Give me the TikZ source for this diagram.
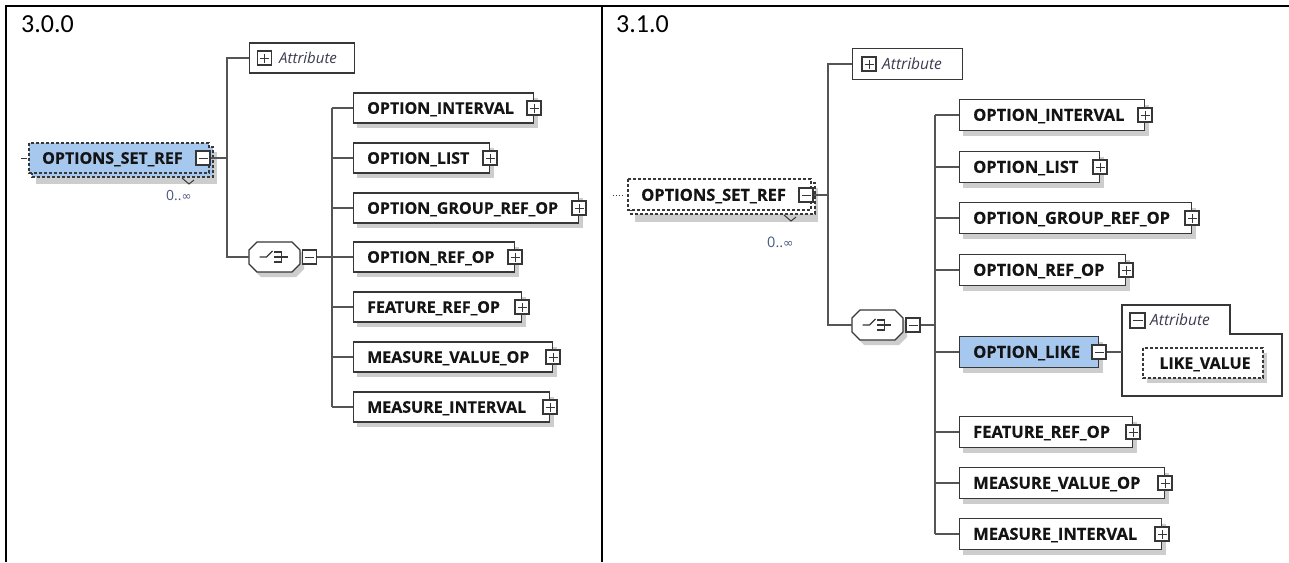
\documentclass[tikz,border=0pt]{standalone}
\usepackage{fontspec}
\setmainfont{Open Sans}
\newfontfamily\calib{Carlito}
\newfontfamily\djv{DejaVu Sans}
\usetikzlibrary{calc}
\definecolor{bluefill}{RGB}{166,200,238}
\definecolor{linec}{RGB}{85,85,85}
\definecolor{boxc}{RGB}{55,55,55}
\definecolor{shadowc}{RGB}{205,205,205}
\definecolor{multc}{RGB}{70,90,125}
\definecolor{attrc}{RGB}{60,60,80}
\tikzset{
 conn/.style={draw=linec, line width=1.4pt},
 elem/.style={draw=boxc, line width=1.3pt, fill=white, inner sep=0pt, anchor=west},
 lbl/.style={text=black!92, inner sep=0pt, anchor=west, text height=11.5pt, text depth=0pt},
 attrlbl/.style={font=\itshape\fontsize{15}{15}\selectfont, text=attrc, inner sep=0pt, anchor=west, text height=10.5pt, text depth=0pt},
 plusicon/.style={draw=boxc, fill=white, line width=1.1pt, minimum size=14pt, inner sep=0pt,
   path picture={\draw[boxc,line width=1pt] ([xshift=2.5pt]path picture bounding box.west) -- ([xshift=-2.5pt]path picture bounding box.east);
   \draw[boxc,line width=1pt] ([yshift=-2.5pt]path picture bounding box.north) -- ([yshift=2.5pt]path picture bounding box.south);}},
 minusicon/.style={draw=boxc, fill=white, line width=1.1pt, minimum size=14pt, inner sep=0pt,
   path picture={\draw[boxc,line width=1pt] ([xshift=2.5pt]path picture bounding box.west) -- ([xshift=-2.5pt]path picture bounding box.east);}},
 choicearea/.style={minimum width=51pt, minimum height=30pt, inner sep=0pt},
 dashbox/.style={draw=boxc, line width=1.2pt, dash pattern=on 3pt off 2pt},
 tbl/.style={draw=black, line width=2.2pt},
}
\newcommand\bfl[1]{\bfseries\addfontfeature{FakeBold=0.4}\fontsize{#1}{#1}\selectfont}
% name, x-left, y-center, width, text, fontsize, height, icon style, fill
\newcommand\elemnode[9]{%
 \fill[shadowc] (#2+4,#3-#7/2+5) rectangle (#2+#4+5,#3+#7/2+5);
 \node[elem, fill=#9, minimum width=#4pt, minimum height=#7pt] (#1) at (#2,#3) {};
 \node[lbl, font=\bfl{#6}] (#1t) at (#2+14,#3) {#5};
 \node[#8] (#1i) at (#2+#4+1,#3) {};
}
\newcommand\octpath[3]{% cx, cy, style
 \draw[#3] (#1-17.5,#2-15) -- (#1+17.5,#2-15) -- (#1+25.5,#2-7) -- (#1+25.5,#2+7) -- (#1+17.5,#2+15) -- (#1-17.5,#2+15) -- (#1-25.5,#2+7) -- (#1-25.5,#2-7) -- cycle;
}
% name, cx, cy
\newcommand\choicenode[3]{%
 \octpath{#2+4}{#3+5}{fill=shadowc, draw=none}
 \octpath{#2}{#3}{fill=white, draw=boxc, line width=1.3pt}
 \node[choicearea] (#1) at (#2,#3) {};
 \draw[boxc, line width=1.1pt] ($(#1.center)+(-15,0)$) -- ($(#1.center)+(-8,0)$) -- ($(#1.center)+(-2,-6)$);
 \foreach \dy in {-5,0,5} {\fill[boxc] ($(#1.center)+(-0.3,\dy-1.3)$) rectangle ($(#1.center)+(2.3,\dy+1.3)$);}
 \draw[boxc, line width=1.1pt] ($(#1.center)+(2,-5)$) -- ($(#1.center)+(7,-5)$) -- ($(#1.center)+(7,5)$) -- ($(#1.center)+(2,5)$);
 \draw[boxc, line width=1.1pt] ($(#1.center)+(2,0)$) -- ($(#1.center)+(13,0)$);
}
\begin{document}
\begin{tikzpicture}[x=1pt,y=-1pt]
\useasboundingbox (0,0) rectangle (1289,562);
\fill[white] (0,0) rectangle (1289,562);
% table
\draw[tbl] (5,6) -- (1289,6);
\draw[tbl] (6,5) -- (6,562);
\draw[tbl] (602,5) -- (602,562);
\node[anchor=base west, inner sep=0pt, font=\calib\fontsize{26}{26}\selectfont] (v1) at (21,32) {3.0.0};
\node[anchor=base west, inner sep=0pt, font=\calib\fontsize{26}{26}\selectfont] (v2) at (616,32) {3.1.0};

% ================= LEFT PANEL =================
\fill[shadowc] (36,152) rectangle (217,184);
\filldraw[dashbox, fill=bluefill] (32,147) rectangle (213,177);
\filldraw[dashbox, fill=bluefill] (29,143) rectangle (209,173);
\node[inner sep=0pt, minimum width=180pt, minimum height=30pt] (osr1) at (119,158) {};
\node[lbl, font=\bfl{16}] (osr1t) at (42,158) {OPTIONS\_SET\_REF};
\node[minusicon] (osr1i) at (203,158) {};
\draw[boxc, line width=1pt] (182,178) -- (189,184) -- (194,180);
\draw[boxc, line width=1pt] (21,158) -- (27,158);
\node[anchor=west, inner sep=0pt, font=\fontsize{14}{14}\selectfont, text=multc] (m1) at (166,196) {0..{\djv\fontsize{12}{12}\selectfont ∞}};

\node[draw=boxc, line width=1.3pt, fill=white, minimum width=105pt, minimum height=30pt, inner sep=0pt, anchor=west] (attr1) at (249,58) {};
\node[plusicon] (attr1i) at (264.5,58) {};
\node[attrlbl] (attr1t) at (279,58) {Attribute};

\choicenode{ch1}{274.5}{257}
\node[minusicon] (ch1i) at (309.5,257) {};

\elemnode{a1}{353}{108}{180}{OPTION\_INTERVAL}{16}{30}{plusicon}{white}
\elemnode{a2}{353}{158}{136}{OPTION\_LIST}{16}{30}{plusicon}{white}
\elemnode{a3}{353}{208}{225}{OPTION\_GROUP\_REF\_OP}{16}{30}{plusicon}{white}
\elemnode{a4}{353}{257}{161}{OPTION\_REF\_OP}{16}{30}{plusicon}{white}
\elemnode{a5}{353}{307}{168}{FEATURE\_REF\_OP}{16}{30}{plusicon}{white}
\elemnode{a6}{353}{357}{199}{MEASURE\_VALUE\_OP}{16}{30}{plusicon}{white}
\elemnode{a7}{353}{407}{196}{MEASURE\_INTERVAL}{16}{30}{plusicon}{white}

\coordinate (j1) at (227,58);
\coordinate (j1b) at (227,257);
\draw[conn] (osr1i.east) -- (osr1i.east -| j1);
\draw[conn] (attr1.west) -- (j1) -- (j1b) -- (ch1.west);
\coordinate (k1) at (332,108);
\coordinate (k1b) at (332,407);
\draw[conn] (ch1i.east) -- (ch1i.east -| k1);
\draw[conn] (k1) -- (k1b);
\foreach \n in {a1,a2,a3,a4,a5,a6,a7} {\draw[conn] (\n.west -| k1) -- (\n.west);}

% ================= RIGHT PANEL =================
\fill[shadowc] (635,188) rectangle (818,222);
\filldraw[dashbox, fill=white] (631,183) rectangle (815,214);
\filldraw[dashbox, fill=white] (628,179) rectangle (811,210);
\node[inner sep=0pt, minimum width=183pt, minimum height=31pt] (osr2) at (719.5,195) {};
\node[lbl, font=\bfl{16.5}] (osr2t) at (641,195) {OPTIONS\_SET\_REF};
\node[minusicon] (osr2i) at (806,195) {};
\draw[boxc, line width=1pt] (784,215) -- (791,221) -- (796,217);
\draw[boxc, line width=1pt, dotted] (613,195) -- (625,195);
\node[anchor=west, inner sep=0pt, font=\fontsize{14.5}{14.5}\selectfont, text=multc] (m2) at (767,242) {0..{\djv\fontsize{12.5}{12.5}\selectfont ∞}};

\node[draw=boxc, line width=1.3pt, fill=white, minimum width=110pt, minimum height=31pt, inner sep=0pt, anchor=west] (attr2) at (852,64) {};
\node[plusicon] (attr2i) at (869,64) {};
\node[attrlbl, font=\itshape\fontsize{15.5}{15.5}\selectfont] (attr2t) at (882,64) {Attribute};

\choicenode{ch2}{877.5}{325}
\node[minusicon] (ch2i) at (913,325) {};

\elemnode{b1}{959}{115}{185}{OPTION\_INTERVAL}{16.5}{31}{plusicon}{white}
\elemnode{b2}{959}{167}{140}{OPTION\_LIST}{16.5}{31}{plusicon}{white}
\elemnode{b3}{959}{218}{232}{OPTION\_GROUP\_REF\_OP}{16.5}{31}{plusicon}{white}
\elemnode{b4}{959}{270}{166}{OPTION\_REF\_OP}{16.5}{31}{plusicon}{white}
\elemnode{b5}{959}{352}{139}{OPTION\_LIKE}{16.5}{31}{minusicon}{bluefill}
\elemnode{b6}{959}{432}{173}{FEATURE\_REF\_OP}{16.5}{31}{plusicon}{white}
\elemnode{b7}{959}{483}{205}{MEASURE\_VALUE\_OP}{16.5}{31}{plusicon}{white}
\elemnode{b8}{959}{534}{202}{MEASURE\_INTERVAL}{16.5}{31}{plusicon}{white}

\draw[boxc, line width=1.3pt, fill=white] (1122,396) -- (1122,305) -- (1230,305) -- (1230,334) -- (1282,334) -- (1282,396) -- cycle;
\node[inner sep=0pt, minimum width=160pt, minimum height=91pt, anchor=north west] (grp) at (1122,305) {};
\node[minusicon, minimum size=15pt] (grpi) at (1137.5,320.5) {};
\node[attrlbl, font=\itshape\fontsize{15.5}{15.5}\selectfont] (grpt) at (1150,320.5) {Attribute};
\fill[shadowc] (1147,353) rectangle (1267,383);
\filldraw[dashbox, fill=white] (1143,348) rectangle (1263,378);
\node[inner sep=0pt, minimum width=120pt, minimum height=30pt] (lv) at (1203,363) {};
\node[lbl, font=\bfl{16}, anchor=center] (lvt) at (1205,363) {LIKE\_VALUE};

\coordinate (j2) at (828,64);
\coordinate (j2b) at (828,325);
\draw[conn] (osr2i.east) -- (osr2i.east -| j2);
\draw[conn] (attr2.west) -- (j2) -- (j2b) -- (ch2.west);
\coordinate (k2) at (935,115);
\coordinate (k2b) at (935,534);
\draw[conn] (ch2i.east) -- (ch2i.east -| k2);
\draw[conn] (k2) -- (k2b);
\foreach \n in {b1,b2,b3,b4,b5,b6,b7,b8} {\draw[conn] (\n.west -| k2) -- (\n.west);}
\draw[conn] (b5i.east) -- (b5i.east -| grp.west);
\end{tikzpicture}
\end{document}
